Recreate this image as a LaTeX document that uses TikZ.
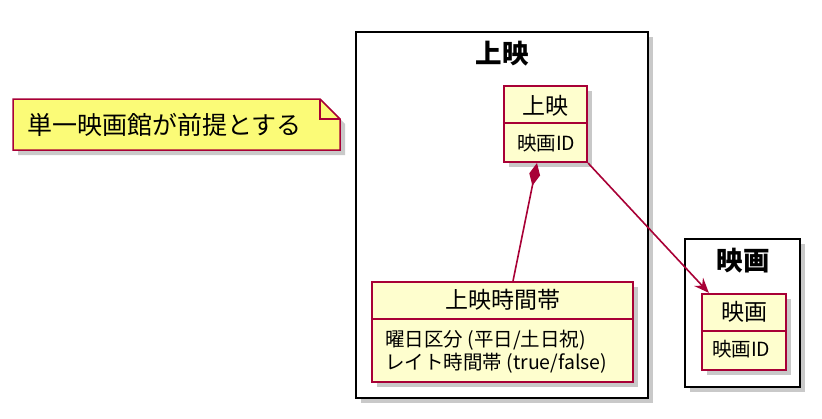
\documentclass[tikz,border=0pt]{standalone}
\usepackage{fontspec}
\setmainfont{Noto Sans CJK JP}
\usetikzlibrary{arrows.meta,shadows,calc}
\definecolor{umlborder}{HTML}{A80036}
\definecolor{umlfill}{HTML}{FEFECE}
\definecolor{notefill}{HTML}{FBFB77}
\tikzset{
  shadowed/.style={drop shadow={shadow xshift=5pt,shadow yshift=-5pt,opacity=0.3,fill=black!70}},
  pkgbox/.style={draw=black,line width=2.5pt,fill=white,shadowed,inner sep=0},
  classbox/.style={draw=umlborder,line width=2.2pt,fill=umlfill,shadowed,inner sep=0},
  pkgtitle/.style={font=\fontsize{26.5}{30}\selectfont\bfseries},
  classtitle/.style={font=\fontsize{23}{27}\selectfont},
  attr/.style={font=\fontsize{19.5}{23}\selectfont,align=left,anchor=west,inner sep=0},
  link/.style={draw=umlborder,line width=1.6pt}
}
\begin{document}
\begin{tikzpicture}[x=1pt,y=-1pt]
\useasboundingbox (0,0) rectangle (822,418);
% note
\fill[black!70,opacity=0.3] (18,104) -- (325,104) -- (345,124) -- (345,155) -- (18,155) -- cycle;
\draw[umlborder,fill=notefill,line width=1.5pt] (13,99) -- (320,99) -- (340,119) -- (340,150) -- (13,150) -- cycle;
\draw[umlborder,line width=1.5pt] (320,99) -- (320,119) -- (340,119);
\node[font=\fontsize{25}{28}\selectfont,anchor=west,inner sep=0] (note) at (27,125) {単一映画館が前提とする};
% packages
\node[pkgbox,minimum width=292,minimum height=366] (p1) at (502,215) {};
\node[pkgtitle] (p1t) at (502,54) {上映};
\node[pkgbox,minimum width=115,minimum height=148] (p2) at (742.5,313) {};
\node[pkgtitle] (p2t) at (743,261) {映画};
% class 上映
\node[classbox,minimum width=83,minimum height=76] (c1) at (545.5,124) {};
\draw[umlborder,line width=2.2pt] (c1.west |- 0,123) -- (c1.east |- 0,123);
\node[classtitle] (c1t) at (545.5,106) {上映};
\node[attr] (c1a) at (517,143) {映画ID};
% class 上映時間帯
\node[classbox,minimum width=261,minimum height=100] (c2) at (502.5,332) {};
\draw[umlborder,line width=2.2pt] (c2.west |- 0,319) -- (c2.east |- 0,319);
\node[classtitle] (c2t) at (502.5,300) {上映時間帯};
\node[attr] (c2a) at (385,351.5) {曜日区分 (平日/土日祝)\\レイト時間帯 (true/false)};
% class 映画
\node[classbox,minimum width=84,minimum height=76] (c3) at (744,332) {};
\draw[umlborder,line width=2.2pt] (c3.west |- 0,331) -- (c3.east |- 0,331);
\node[classtitle] (c3t) at (744,312) {映画};
\node[attr] (c3a) at (712,349) {映画ID};
% links
\coordinate (d1) at ($(c1.south west)!0.4!(c1.south east)$);
\coordinate (d2) at ($(c2.north west)!0.54!(c2.north east)$);
\draw[link,{Diamond[length=23,width=11,fill=umlborder]}-] (d1) -- (d2);
\coordinate (a1) at (c1.south east);
\coordinate (a2) at ($(c3.north west)+(8,0)$);
\draw[link,-{Stealth[length=15,width=12,inset=5,fill=umlborder]}] (a1) -- (a2);
\end{tikzpicture}
\end{document}
